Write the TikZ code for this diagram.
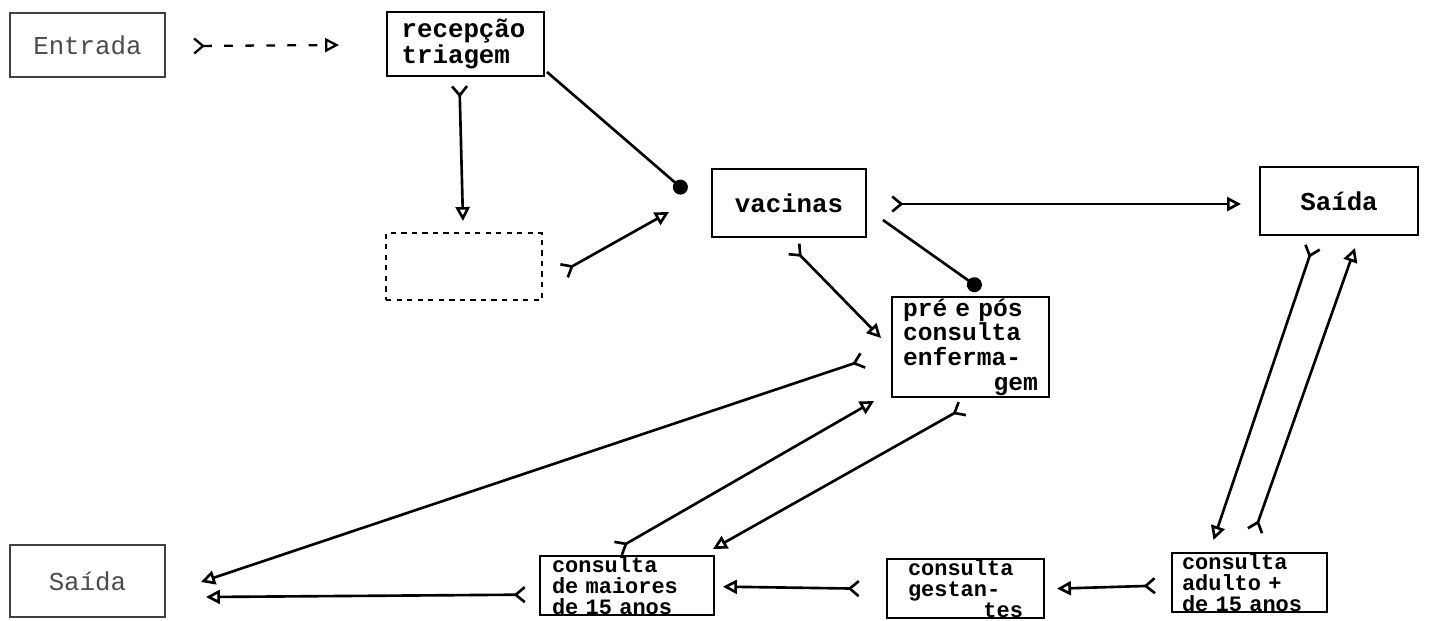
\documentclass[tikz,border=0pt]{standalone}
\usepackage{fontspec}
\setmonofont{Liberation Mono}
\usetikzlibrary{arrows.meta}
\tikzset{
  typed/.style={draw,line width=1.1pt,inner sep=0pt,align=left,
    font=\ttfamily\bfseries\fontsize{14.7}{12}\selectfont},
  typedlight/.style={typed,draw=black!75,text=black!70,
    font=\ttfamily\fontsize{14.7}{12}\selectfont},
  typedlow/.style={typed,anchor=north,inner ysep=0.5pt,
    font=\ttfamily\bfseries\fontsize{12.5}{11.8}\selectfont},
  link/.style={{Straight Barb[reversed,length=1.8mm,width=3mm]}-{Triangle[open,length=2.8mm,width=2.8mm]},
    line width=1.5pt},
  linkdot/.style={link,-{Circle[length=3mm]}},
  dashlink/.style={link,line width=1.3pt,dash pattern=on 5pt off 7pt}
}
\begin{document}
\begin{tikzpicture}[x=0.02cm,y=-0.02cm]
  \useasboundingbox (0,0) rectangle (1431,620);
  % upper row
  \node[typedlight,minimum width=3.1cm,minimum height=1.28cm] (ent) at (87.5,45) {Entrada};
  \node[typed,minimum width=3.14cm,minimum height=1.28cm,text width=2.56cm,
    font=\ttfamily\bfseries\fontsize{14.7}{10}\selectfont] (rec) at (465.5,44) {recepção\\triagem};
  \node[typed,dashed,minimum width=3.12cm,minimum height=1.34cm] (fad) at (464,266.5) {};
  \node[typed,minimum width=3.08cm,minimum height=1.36cm] (vac) at (789,203) {vacinas};
  \node[typed,minimum width=3.16cm,minimum height=1.36cm] (sai1) at (1339,201) {Saída};
  \node[typed,minimum width=3.14cm,minimum height=2cm,text width=2.7cm,
    font=\ttfamily\bfseries\fontsize{14}{14}\selectfont] (pre) at (970.5,347)
    {pré e pós\\consulta\\enferma-\\\hfill gem};
  % lower row
  \node[typedlight,minimum width=3.1cm,minimum height=1.44cm] (sai2) at (87.5,581) {Saída};
  \node[typedlow,minimum width=3.48cm,text width=3cm] (mai) at (627,555)
    {consulta\\de maiores\\de 15 anos};
  \node[typedlow,minimum width=3.14cm,text width=2.3cm] (ges) at (965.5,558)
    {consulta\\gestan-\\\hfill tes};
  \node[typedlow,minimum width=3.1cm,text width=2.7cm] (adu) at (1249.5,552)
    {consulta\\adulto +\\de 15 anos};
  % connectors
  \draw[dashlink] ([shift={(27,1)}]ent.east) -- ([shift={(-47,1)}]rec.west);
  \draw[linkdot] ([shift={(2,-5)}]rec.south east) -- ([shift={(-25,-11)}]vac.west);
  \draw[link] ([shift={(-6,8)}]rec.south) -- ([shift={(-1,-11)}]fad.north);
  \draw[link] ([shift={(20,5)}]fad.east) -- ([shift={(-42,9)}]vac.west);
  \draw[link] ([shift={(24,1)}]vac.east) -- ([shift={(-18,3)}]sai1.west);
  \draw[linkdot] ([shift={(16,17)}]vac.east) -- ([shift={(10,-7)}]pre.north);
  \draw[link] ([shift={(4,10)}]vac.south) -- ([shift={(-10,-9)}]pre.west);
  \draw[link] ([shift={(-27,13)}]pre.west) -- ([shift={(35,1)}]sai2.east);
  \draw[link] ([shift={(-10,-6)}]mai.north) -- ([shift={(-17,3)}]pre.south west);
  \draw[link] ([shift={(-7,10)}]pre.south) -- ([shift={(-2,-6)}]mai.north east);
  \draw[link] ([shift={(-26,10)}]sai1.south) -- ([shift={(-36,-12)}]adu.north);
  \draw[link] ([shift={(5,-20)}]adu.north) -- ([shift={(16,12)}]sai1.south);
  \draw[link] ([shift={(-15,3)}]adu.west) -- ([shift={(12,0)}]ges.east);
  \draw[link] ([shift={(-26,0)}]ges.west) -- ([shift={(8,1)}]mai.east);
  \draw[link] ([shift={(-13,9)}]mai.west) -- ([shift={(40,16)}]sai2.east);
\end{tikzpicture}
\end{document}
